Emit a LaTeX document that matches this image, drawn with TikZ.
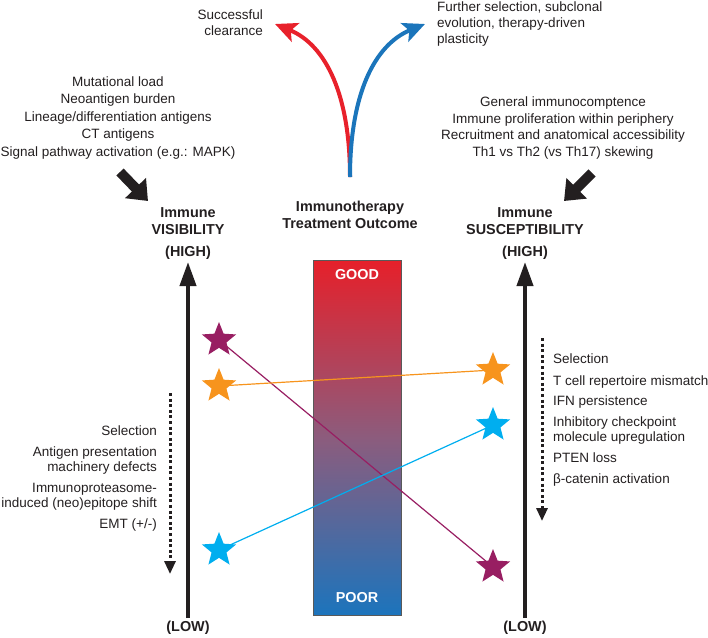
\documentclass[tikz,border=0pt]{standalone}
\usepackage{fontspec}
\setmainfont{Liberation Sans}
\usetikzlibrary{arrows.meta,shapes.geometric}
\definecolor{cred}{RGB}{232,33,43}
\definecolor{cblue}{RGB}{27,117,187}
\definecolor{cpurp}{RGB}{152,30,98}
\definecolor{corange}{RGB}{247,148,29}
\definecolor{ccyan}{RGB}{0,174,239}
\definecolor{barTop}{RGB}{230,32,42}
\definecolor{barMid}{RGB}{140,92,125}
\definecolor{barBot}{RGB}{28,116,188}
\definecolor{txtgray}{RGB}{35,31,32}
\pgfdeclarelayer{bg}
\pgfdeclarelayer{mid}
\pgfsetlayers{bg,mid,main}
\tikzset{
  txt/.style={font=\fontsize{13.5}{17}\selectfont, text=txtgray, inner sep=0pt},
  listtxt/.style={font=\fontsize{13.5}{15.5}\selectfont, text=txtgray, inner sep=0pt},
  ttl/.style={font=\fontsize{14.4}{17}\selectfont\bfseries, text=txtgray, inner sep=0pt, align=center},
  axisline/.style={line width=4pt, txtgray, -{Triangle[length=24pt,width=16pt]}},
  dotarrow/.style={line width=3pt, txtgray, dash pattern=on 3pt off 2.6pt, -{Triangle[length=13pt,width=11pt]}},
  fatarrow/.style={line width=10pt, txtgray, -{Triangle[length=18pt,width=28pt]}},
  curvearrow/.style={line width=4pt, -{Stealth[length=22pt,width=20pt,inset=5pt]}},
  starshape/.style={star, star points=5, star point ratio=2.3, minimum size=36pt, inner sep=0pt, draw=none},
  link/.style={line width=1.2pt},
}
\begin{document}
\begin{tikzpicture}[x=1pt,y=-1pt]
\useasboundingbox (0,0) rectangle (708,637);

% top curved arrows
\coordinate (root) at (350,177);
\coordinate (redtip) at (275,24);
\coordinate (bluetip) at (425,24);
\draw[curvearrow, cred] (root) .. controls (350,95) and (326,45) .. (redtip);
\draw[curvearrow, cblue] (root) .. controls (350,95) and (374,45) .. (bluetip);

\node[txt, align=right, anchor=east, font=\fontsize{13.5}{16}\selectfont] (succ) at (263,23) {Successful\\clearance};
\node[txt, align=left, anchor=west, font=\fontsize{13.5}{16}\selectfont] (furth) at (437,24) {Further selection, subclonal\\evolution, therapy-driven\\plasticity};

% factor lists
\node[txt, align=center, font=\fontsize{13.5}{17.5}\selectfont] (visfac) at (118,118) {Mutational load\\Neoantigen burden\\Lineage/differentiation antigens\\CT antigens\\Signal pathway activation (e.g.: MAPK)};
\node[txt, align=center, font=\fontsize{13.5}{16.8}\selectfont] (susfac) at (563,128) {General immunocomptence\\Immune proliferation within periphery\\Recruitment and anatomical accessibility\\Th1 vs Th2 (vs Th17) skewing};

% fat arrows
\coordinate (la1) at (120,172);
\coordinate (la2) at (148,201);
\coordinate (ra1) at (592,173);
\coordinate (ra2) at (564,201);
\draw[fatarrow] (la1) -- (la2);
\draw[fatarrow] (ra1) -- (ra2);

% titles
\node[ttl] (vis) at (188,221.5) {Immune\\VISIBILITY};
\node[ttl] (outc) at (350,214.5) {Immunotherapy\\Treatment Outcome};
\node[ttl] (sus) at (525,221.5) {Immune\\SUSCEPTIBILITY};
\node[ttl] (vhigh) at (188,253) {(HIGH)};
\node[ttl] (shigh) at (525,253) {(HIGH)};
\node[ttl] (vlow) at (188,628) {(LOW)};
\node[ttl] (slow) at (525,628) {(LOW)};

% axes
\coordinate (vbot) at (188,618);
\coordinate (vtop) at (188,262);
\coordinate (sbot) at (525,618);
\coordinate (stop) at (525,262);
\draw[axisline] (vbot) -- (vtop);
\draw[axisline] (sbot) -- (stop);

% outcome bar
\begin{pgfonlayer}{bg}
\node[draw=black!65, line width=0.8pt, minimum width=88pt, minimum height=355pt, inner sep=0pt,
  top color=barTop, bottom color=barBot, middle color=barMid] (bar) at (357,437.5) {};
\end{pgfonlayer}
\node[ttl, text=white] (good) at (357,275) {GOOD};
\node[ttl, text=white] (poor) at (357,598) {POOR};

% dotted arrows
\coordinate (ld1) at (170,393);
\coordinate (ld2) at (170,574);
\coordinate (rd1) at (542,338);
\coordinate (rd2) at (542,521);
\draw[dotarrow] (ld1) -- (ld2);
\draw[dotarrow] (rd1) -- (rd2);

\node[listtxt, align=right, anchor=east] (vlist) at (157,478.5) {Selection\\[5.3pt]Antigen presentation\\machinery defects\\[5pt]Immunoproteasome-\\induced (neo)epitope shift\\[5.5pt]EMT (+/-)};
\node[listtxt, align=left, anchor=west] (slist) at (553,420.5) {Selection\\[6pt]T cell repertoire mismatch\\[4.5pt]IFN persistence\\[5.5pt]Inhibitory checkpoint\\molecule upregulation\\[5.5pt]PTEN loss\\[5.5pt]β-catenin activation};

% stars
\node[starshape, fill=cpurp] (p1) at (219,340) {};
\node[starshape, fill=cpurp] (p2) at (493,567) {};
\node[starshape, fill=corange] (o1) at (219,386) {};
\node[starshape, fill=corange] (o2) at (493,370) {};
\node[starshape, fill=ccyan] (b1) at (219,550) {};
\node[starshape, fill=ccyan] (b2) at (493,425) {};
\begin{pgfonlayer}{mid}
\draw[link, cpurp] (p1.center) -- (p2.center);
\draw[link, corange] (o1.center) -- (o2.center);
\draw[link, ccyan] (b1.center) -- (b2.center);
\end{pgfonlayer}
\end{tikzpicture}
\end{document}
